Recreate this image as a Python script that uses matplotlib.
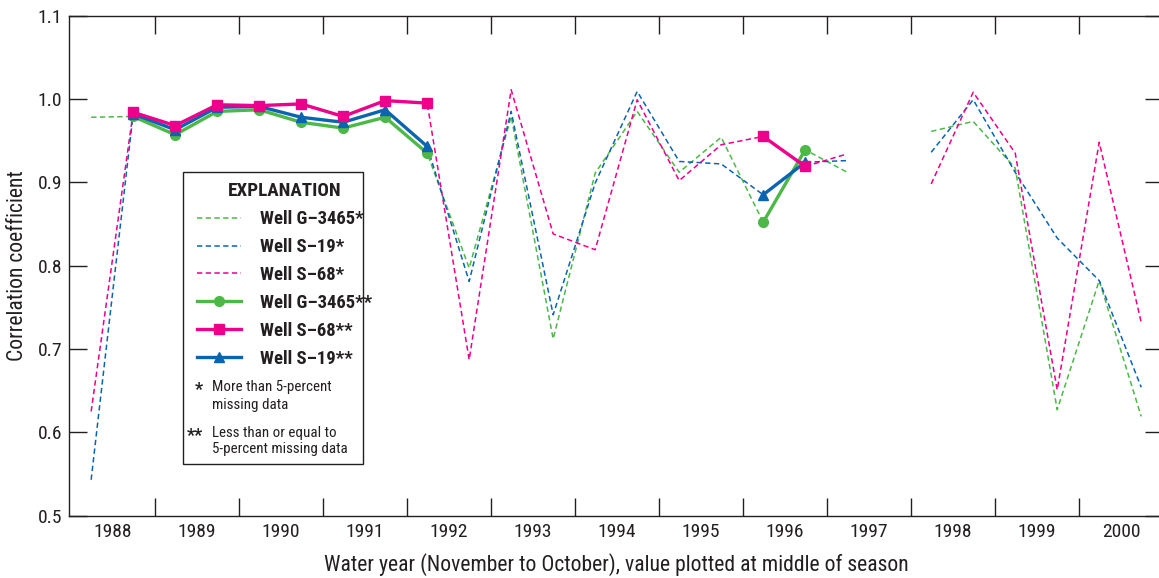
import numpy as np
import matplotlib.pyplot as plt
from matplotlib import font_manager
from matplotlib.patches import Rectangle

# pick a narrow sans if one is installed (reference uses a condensed face)
fonts = font_manager.fontManager.ttflist
names = {f.name for f in fonts}
narrow = [n for n in ['Liberation Sans Narrow', 'Roboto Condensed', 'Open Sans Condensed'] if n in names]
if narrow:
    plt.rcParams['font.family'] = [narrow[0], 'DejaVu Sans']
elif any(f.name == 'DejaVu Sans' and f.stretch == 'condensed' for f in fonts):
    plt.rcParams['font.family'] = ['DejaVu Sans']
    plt.rcParams['font.stretch'] = 'condensed'
else:
    plt.rcParams['font.family'] = ['Liberation Sans', 'DejaVu Sans']

# water year and season of each point (value plotted at middle of season)
years = [1988, 1988, 1989, 1989, 1990, 1990, 1991, 1991, 1992, 1992, 1993, 1993, 1994,
         1994, 1995, 1995, 1996, 1996, 1997, 1997, 1998, 1998, 1999, 1999, 2000, 2000]
season = ['dry', 'wet'] * 13
season_mid = {'dry': 0.24, 'wet': 0.74}

nan = np.nan
# more than 5-percent missing data
g3465_a = [0.978, 0.979, 0.957, 0.985, 0.987, 0.972, 0.965, 0.978, 0.935, 0.797, 0.979, 0.712, 0.911,
           0.985, 0.912, 0.954, 0.852, 0.939, 0.912, nan, 0.961, 0.973, 0.917, 0.627, 0.782, 0.619]
s19_a = [0.543, 0.982, 0.963, 0.990, 0.991, 0.978, 0.972, 0.987, 0.943, 0.781, 0.985, 0.741, 0.899,
         1.009, 0.925, 0.922, 0.885, 0.924, 0.926, nan, 0.936, 0.999, 0.912, 0.833, 0.782, 0.654]
s68_a = [0.625, 0.984, 0.968, 0.993, 0.992, 0.994, 0.979, 0.998, 0.995, 0.687, 1.011, 0.838, 0.819,
         0.999, 0.902, 0.945, 0.955, 0.919, 0.934, nan, 0.898, 1.008, 0.935, 0.651, 0.948, 0.732]
# less than or equal to 5-percent missing data
g3465_b = [nan, 0.979, 0.957, 0.985, 0.987, 0.972, 0.965, 0.978, 0.935, nan, nan, nan, nan,
           nan, nan, nan, 0.852, 0.939, nan, nan, nan, nan, nan, nan, nan, nan]
s68_b = [nan, 0.984, 0.968, 0.993, 0.992, 0.994, 0.979, 0.998, 0.995, nan, nan, nan, nan,
         nan, nan, nan, 0.955, 0.919, nan, nan, nan, nan, nan, nan, nan, nan]
s19_b = [nan, 0.982, 0.963, 0.990, 0.991, 0.978, 0.972, 0.987, 0.943, nan, nan, nan, nan,
         nan, nan, nan, 0.885, 0.924, nan, nan, nan, nan, nan, nan, nan, nan]

year_labels = [str(y) for y in range(1988, 2001)]

green = '#4db848'
blue = '#0a64b0'
pink = '#ec008c'
ink = '#231f20'

x = np.array([y + season_mid[s] for y, s in zip(years, season)])

fig = plt.figure(figsize=(11.59, 5.78), dpi=100)
ax = fig.add_axes([0.0598, 0.108, 0.9437, 0.865])

dash = (0, (3.5, 2.2))
l1, = ax.plot(x, g3465_a, color=green, lw=1.1, ls=dash, label='Well G\u20133465*', zorder=2)
l2, = ax.plot(x, s19_a, color=blue, lw=1.1, ls=dash, label='Well S\u201319*', zorder=2)
l3, = ax.plot(x, s68_a, color=pink, lw=1.1, ls=dash, label='Well S\u201368*', zorder=2)
l4, = ax.plot(x, g3465_b, color=green, lw=2.4, marker='o', ms=7, label='Well G\u20133465**', zorder=3)
l6, = ax.plot(x, s19_b, color=blue, lw=2.4, marker='^', ms=7, label='Well S\u201319**', zorder=4)
l5, = ax.plot(x, s68_b, color=pink, lw=2.4, marker='s', ms=7, label='Well S\u201368**', zorder=5)

ax.set_xlim(1987.98, 2001.0)
ax.set_ylim(0.5, 1.1)

# year boundaries as ticks, labels in the middle of each year
ax.set_xticks(np.arange(1989, 2001), [''] * 12)
ax.set_xticks(np.arange(1988, 2001) + 0.5, year_labels, minor=True)
ax.tick_params(axis='x', which='minor', length=0, pad=5, labelsize=14, labelcolor=ink)
ax.tick_params(axis='x', which='major', direction='in', length=13, width=1, top=True, color=ink)
ax.set_yticks(np.arange(0.5, 1.11, 0.1))
ax.set_yticklabels(['0.5', '0.6', '0.7', '0.8', '0.9', '1.0', '1.1'])
ax.tick_params(axis='y', direction='in', length=13, width=1, right=True, labelsize=14,
               pad=5, color=ink, labelcolor=ink)
for s in ax.spines.values():
    s.set_linewidth(1.0)
    s.set_color(ink)

ax.set_xlabel('Water year (November to October), value plotted at middle of season',
              fontsize=15.6, labelpad=9, color=ink)
ax.set_ylabel('Correlation coefficient', fontsize=15.6, labelpad=7, color=ink)

# explanation box
ax.add_patch(Rectangle((0.104, 0.103), 0.1645, 0.584, transform=ax.transAxes,
                       facecolor='white', edgecolor=ink, lw=1.0, zorder=6))
leg = ax.legend(handles=[l1, l2, l3, l4, l5, l6], title='EXPLANATION', loc='upper left',
                bbox_to_anchor=(0.107, 0.687), frameon=False,
                prop={'weight': 'bold', 'size': 13.4}, handlelength=2.4, handletextpad=1.0,
                labelspacing=0.53, borderpad=0.55, borderaxespad=0)
leg.get_title().set_fontweight('bold')
leg.get_title().set_fontsize(13.8)
leg.get_title().set_color(ink)
for t in leg.get_texts():
    t.set_color(ink)
leg.set_zorder(7)

notes = [(0.1186, 0.2576, '*', 'More than 5-percent'), (0.1186, 0.221, '', 'missing data'),
         (0.1149, 0.1656, '**', 'Less than or equal to'), (0.1149, 0.1324, '', '5-percent missing data')]
for xs, yy, mark, txt in notes:
    ax.text(xs, yy - 0.006, mark, transform=ax.transAxes, ha='center', va='center',
            fontsize=13, fontweight='bold', color=ink, zorder=8)
    ax.text(0.1302, yy, txt, transform=ax.transAxes, ha='left', va='center', fontsize=10.8,
            color=ink, zorder=8)

fig.savefig('out.png', dpi=100)
